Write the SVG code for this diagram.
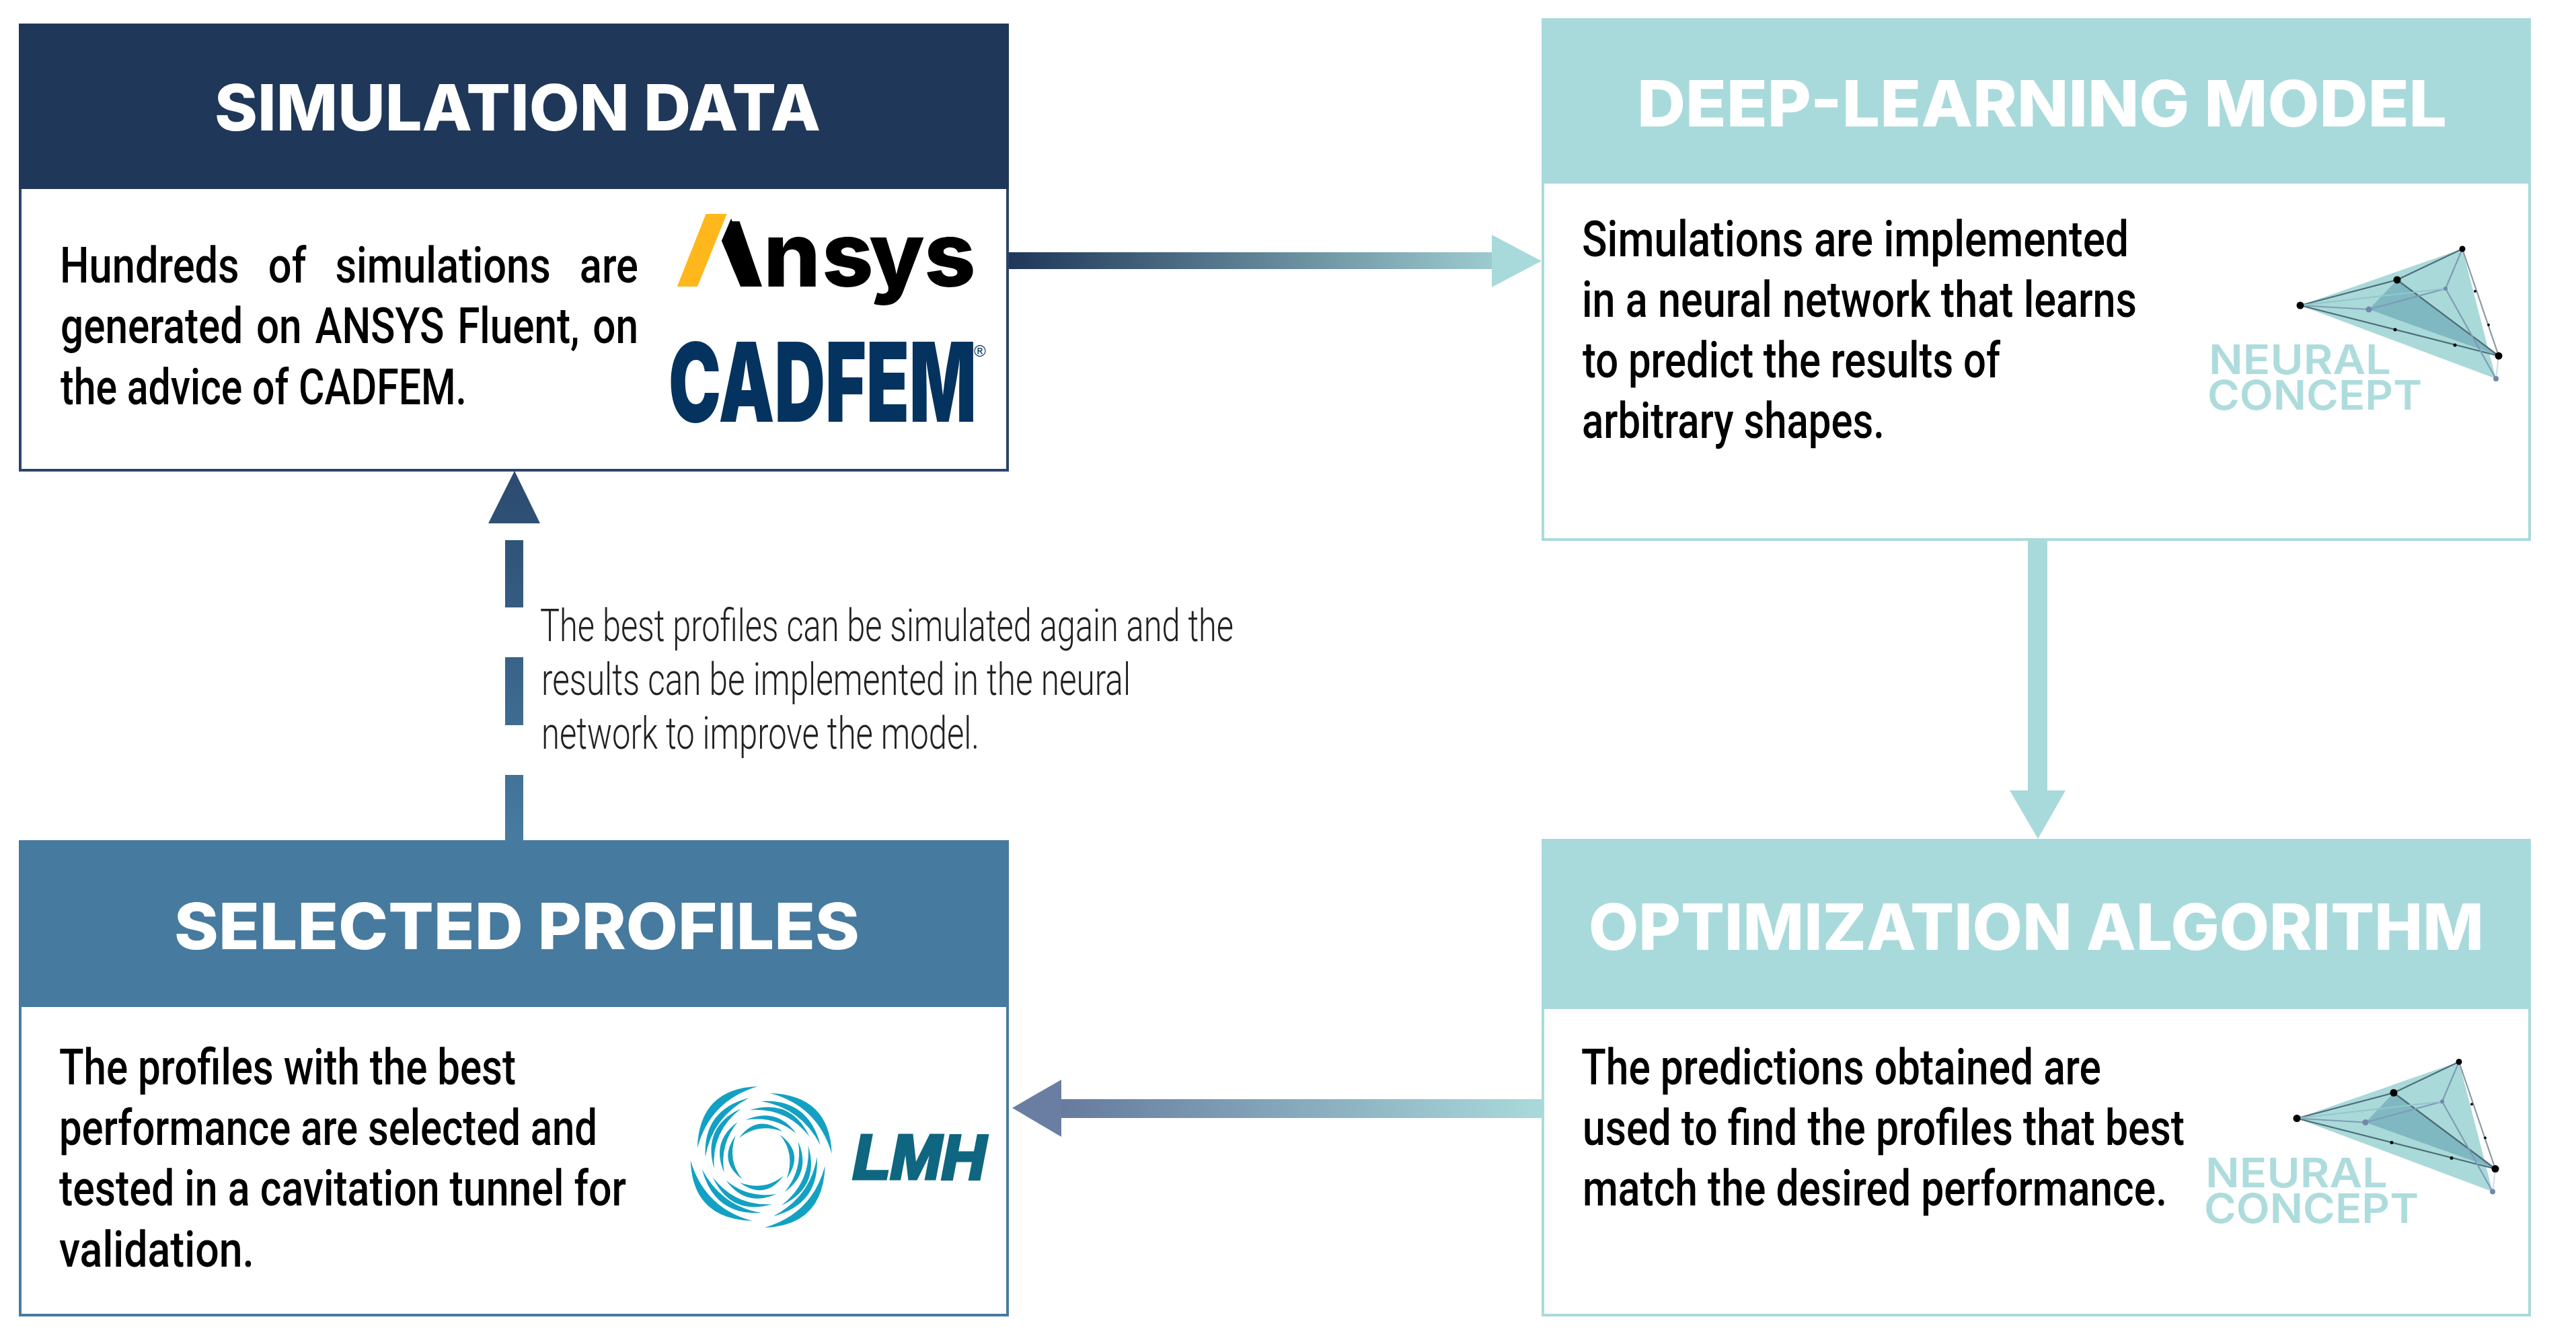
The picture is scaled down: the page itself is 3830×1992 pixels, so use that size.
<svg xmlns="http://www.w3.org/2000/svg" xmlns:xlink="http://www.w3.org/1999/xlink" width="3830" height="1992" viewBox="0 0 3830 1992">
<style>
.title{font-family:"Inter","Liberation Sans",sans-serif;font-weight:800;font-size:95px;fill:#fff}
.body{font-family:"Roboto","Liberation Sans",sans-serif;font-weight:500;font-size:75px;fill:#000}
.note{font-family:"Roboto","Liberation Sans",sans-serif;font-weight:300;font-size:66px;fill:#222}
.nc{font-family:"Inter","Liberation Sans",sans-serif;font-weight:600;font-size:61px;fill:#aedcdd}
.frame{fill:#fff;stroke-width:4}
</style>
<defs>
<linearGradient id="gA" gradientUnits="userSpaceOnUse" x1="1500" y1="0" x2="2292" y2="0"><stop offset="0" stop-color="#1f3759"/><stop offset="1" stop-color="#a9dadb"/></linearGradient>
<linearGradient id="gC" gradientUnits="userSpaceOnUse" x1="1505" y1="0" x2="2292" y2="0"><stop offset="0" stop-color="#5f7198"/><stop offset="1" stop-color="#a9dadb"/></linearGradient>
<linearGradient id="gD" gradientUnits="userSpaceOnUse" x1="0" y1="700" x2="0" y2="1248"><stop offset="0" stop-color="#2b4a6f"/><stop offset="1" stop-color="#477ba0"/></linearGradient>
<g id="ncmark">
<polygon points="3420,454 3661,370 3711,563" fill="#a9d9d9"/>
<polygon points="3564,416 3522,460 3715,529" fill="#7fb8c1"/>
<g fill="none" stroke-width="2.2">
<path d="M3420,454L3564,416L3661,370M3564,416L3715,529M3420,454L3715,529" stroke="#4d6c78"/>
<path d="M3661,370L3715,529" stroke="#8a9a9f"/>
<path d="M3715,529L3711,563" stroke="#d5dde8"/>
<path d="M3420,454L3522,460L3636,429L3661,370M3636,429L3711,563" stroke="#7f9cb5"/>
<path d="M3420,454L3636,429" stroke="#94c6cc"/>
</g>
<g fill="#000"><circle cx="3420" cy="454" r="5.5"/><circle cx="3661" cy="370" r="4.5"/><circle cx="3564" cy="416" r="5.5"/><circle cx="3715" cy="529" r="5.5"/><circle cx="3680" cy="433" r="2"/><circle cx="3700" cy="483" r="2"/><circle cx="3561" cy="490" r="2.5"/><circle cx="3650" cy="513" r="2.5"/></g>
<g fill="#7189ab"><circle cx="3522" cy="460" r="4.5"/><circle cx="3636" cy="429" r="3"/><circle cx="3711" cy="563" r="4"/></g>
<text class="nc" x="3284" y="556" textLength="271" lengthAdjust="spacingAndGlyphs">NEURAL</text>
<text class="nc" x="3282" y="609" textLength="319" lengthAdjust="spacingAndGlyphs">CONCEPT</text>
</g>
<g id="blades" fill="#13a1c3">
<path d="M-5,-105Q-92,-102-95,-13Q-76,-84-5,-105Z"/>
<path d="M-18,-88Q-87,-70-83,0Q-73,-59-18,-88Z"/>
<path d="M-30,-72Q-88,-45-70,17Q-74,-38-30,-72Z"/>
<path d="M-35,-52Q-75,-23-55,23Q-62,-19-35,-52Z"/>
<path d="M-38,-32Q-65,6-28,33Q-51,5-38,-32Z"/>
</g>
</defs>
<rect width="3830" height="1992" fill="#fff"/>

<g id="connectors">
<g id="arrow-sim-to-model">
<rect x="1498" y="375" width="722" height="25" fill="url(#gA)"/>
<polygon points="2218,349 2292,388 2218,427" fill="#a9dadb"/>
</g>
<g id="arrow-model-to-opt">
<rect x="3015" y="803" width="29" height="373" fill="#a9dadb"/>
<polygon points="2988,1175 3071,1175 3030,1247" fill="#a9dadb"/>
</g>
<g id="arrow-opt-to-profiles">
<rect x="1576" y="1634" width="716" height="28" fill="url(#gC)"/>
<polygon points="1578,1605 1505,1647 1578,1690" fill="#6a7ea3"/>
</g>
<g id="arrow-profiles-to-sim" fill="url(#gD)">
<polygon points="765,700 803,778 726,778"/>
<rect x="751" y="803" width="27" height="100"/>
<rect x="751" y="977" width="27" height="101"/>
<rect x="751" y="1152" width="27" height="97"/>
</g>
</g>

<g id="node-simulation-data">
<rect class="frame" x="30" y="37" width="1468" height="662" stroke="#2b4468"/>
<rect x="28" y="35" width="1472" height="246" fill="#1f3759"/>
<text class="title" x="319" y="194" textLength="901" lengthAdjust="spacingAndGlyphs">SIMULATION DATA</text>
<text class="body" x="89" y="420" word-spacing="34" textLength="860" lengthAdjust="spacingAndGlyphs">Hundreds of simulations are</text>
<text class="body" x="90" y="510" word-spacing="6" textLength="859" lengthAdjust="spacingAndGlyphs">generated on ANSYS Fluent, on</text>
<text class="body" x="90" y="601" textLength="604" lengthAdjust="spacingAndGlyphs">the advice of CADFEM.</text>
<g id="logo-ansys">
<text x="1033 1135 1222 1292 1374" y="426" font-family="Inter, 'Liberation Sans', sans-serif" font-weight="800" font-size="134" fill="#000">Ansys</text>
<polygon points="1000,432 1082,432 1101,426 1073,358 1092,315 1040,315" fill="#fff"/>
<polygon points="1049.6,318 1080.7,318 1037,426 1006.8,426" fill="#ffb71b"/>
<polygon points="1087,325 1073,358 1101,426 1131,426" fill="#000"/>
</g>
<g id="logo-cadfem" fill="#03335e">
<text y="627" font-family="Inter, 'Liberation Sans', sans-serif" font-weight="900" font-size="163"><tspan x="994" textLength="458" lengthAdjust="spacingAndGlyphs">CADFEM</tspan><tspan x="1448" y="530" font-family="'Liberation Sans', sans-serif" font-weight="400" font-size="24">®</tspan></text>
</g>
</g>

<g id="node-deep-learning-model">
<rect class="frame" x="2294" y="29" width="1467" height="773" stroke="#a9dadb"/>
<rect x="2292" y="27" width="1471" height="246" fill="#a9dadb"/>
<text class="title" x="2434" y="188" textLength="1204" lengthAdjust="spacingAndGlyphs">DEEP-LEARNING MODEL</text>
<text class="body" x="2352" y="381" textLength="813" lengthAdjust="spacingAndGlyphs">Simulations are implemented</text>
<text class="body" x="2352" y="471" textLength="825" lengthAdjust="spacingAndGlyphs">in a neural network that learns</text>
<text class="body" x="2353" y="561" textLength="621" lengthAdjust="spacingAndGlyphs">to predict the results of</text>
<text class="body" x="2352" y="651" textLength="450" lengthAdjust="spacingAndGlyphs">arbitrary shapes.</text>
<use id="logo-nc-1" xlink:href="#ncmark" href="#ncmark"/>
</g>

<g id="node-selected-profiles">
<rect class="frame" x="30" y="1251" width="1468" height="704" stroke="#477ba0"/>
<rect x="28" y="1249" width="1472" height="248" fill="#477a9f"/>
<text class="title" x="259" y="1411" textLength="1019" lengthAdjust="spacingAndGlyphs">SELECTED PROFILES</text>
<text class="body" x="88" y="1612" textLength="679" lengthAdjust="spacingAndGlyphs">The profiles with the best</text>
<text class="body" x="88" y="1702" textLength="800" lengthAdjust="spacingAndGlyphs">performance are selected and</text>
<text class="body" x="88" y="1792" textLength="843" lengthAdjust="spacingAndGlyphs">tested in a cavitation tunnel for</text>
<text class="body" x="88" y="1883" textLength="290" lengthAdjust="spacingAndGlyphs">validation.</text>
<g id="logo-lmh">
<use xlink:href="#blades" href="#blades" transform="translate(1131.7,1720)"/>
<use xlink:href="#blades" href="#blades" transform="translate(1131.7,1720) rotate(90)"/>
<use xlink:href="#blades" href="#blades" transform="translate(1131.7,1720) rotate(180)"/>
<use xlink:href="#blades" href="#blades" transform="translate(1131.7,1720) rotate(270)"/>
<text x="1268" y="1752" textLength="198" lengthAdjust="spacingAndGlyphs" font-family="'Liberation Sans', sans-serif" font-weight="700" font-style="italic" font-size="93" fill="#0f6680" stroke="#0f6680" stroke-width="5">LMH</text>
</g>
</g>

<g id="node-optimization-algorithm">
<rect class="frame" x="2294" y="1249" width="1467" height="706" stroke="#a9dadb"/>
<rect x="2292" y="1247" width="1471" height="253" fill="#a9dadb"/>
<text class="title" x="2362" y="1412" textLength="1331" lengthAdjust="spacingAndGlyphs">OPTIMIZATION ALGORITHM</text>
<text class="body" x="2351" y="1612" textLength="773" lengthAdjust="spacingAndGlyphs">The predictions obtained are</text>
<text class="body" x="2353" y="1702" textLength="895" lengthAdjust="spacingAndGlyphs">used to find the profiles that best</text>
<text class="body" x="2353" y="1792" textLength="869" lengthAdjust="spacingAndGlyphs">match the desired performance.</text>
<use id="logo-nc-2" xlink:href="#ncmark" href="#ncmark" transform="translate(-5,1208.5)"/>
</g>

<g id="feedback-note">
<text class="note" x="803" y="953" textLength="1031" lengthAdjust="spacingAndGlyphs">The best profiles can be simulated again and the</text>
<text class="note" x="805" y="1033" textLength="876" lengthAdjust="spacingAndGlyphs">results can be implemented in the neural</text>
<text class="note" x="805" y="1113" textLength="651" lengthAdjust="spacingAndGlyphs">network to improve the model.</text>
</g>
</svg>
